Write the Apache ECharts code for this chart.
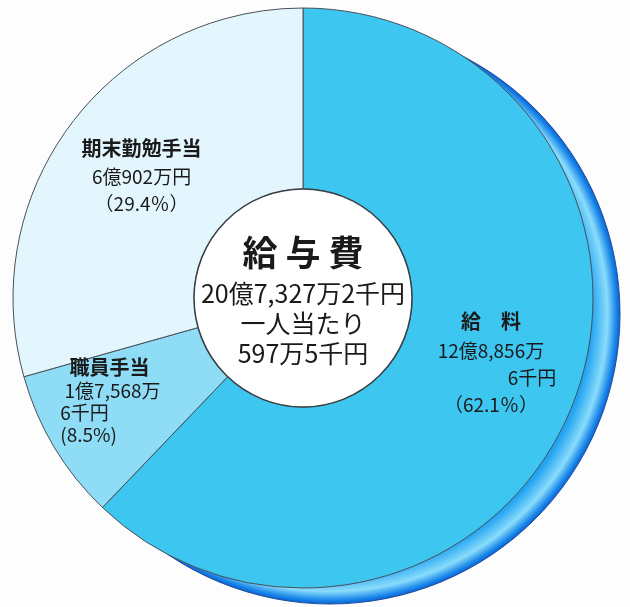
<!DOCTYPE html>
<html>
<head>
<meta charset="utf-8">
<script src="https://cdn.jsdelivr.net/npm/echarts@6/dist/echarts.min.js"></script>
<style>
  html, body { margin: 0; padding: 0; background: #fdfdfd; }
  #main { width: 630px; height: 607px; }
</style>
</head>
<body>
<div id="main"></div>
<script>
// 単位：千円
const categories = ['給　料', '職員手当', '期末勤勉手当'];
const values = [1288566, 175686, 609020];
const amountLines = [['12億8,856万', '6千円'], [' 1億7,568万', '6千円'], ['6億902万円']];
const percentLabels = ['（62.1％）', '(8.5%)', '（29.4％）'];
const colors = ['#3cc6f0', '#8fdcf6', '#e4f6fd'];
const centerTitle = '給 与 費';
const totalLabel = '20億7,327万2千円';
const perCapitaLabel = '597万5千円';

const font = '"Noto Sans CJK JP", sans-serif';
const center = [303, 298];

// ラベルの書式（スライスごと）
const labelStyles = [
  {
    formatter: `{h|${categories[0]}}\n{a|${amountLines[0][0]}}\n{r|${amountLines[0][1]}}\n{p|${percentLabels[0]}}`,
    offset: [0, -12],
    rich: {
      h: { fontSize: 20, fontWeight: 'bold', lineHeight: 32 },
      a: { fontSize: 19, lineHeight: 27 },
      r: { fontSize: 19, lineHeight: 27, align: 'right', padding: [0, -12, 0, 0] },
      p: { fontSize: 19, lineHeight: 27 }
    }
  },
  {
    formatter: `{h|  ${categories[1]}}\n{a|${amountLines[1][0]}}\n{a|${amountLines[1][1]}}\n{a|${percentLabels[1]}}`,
    offset: [-19, -2],
    rich: {
      h: { fontSize: 20, fontWeight: 'bold', lineHeight: 24, align: 'left' },
      a: { fontSize: 19, lineHeight: 22, align: 'left' }
    }
  },
  {
    formatter: `{h|${categories[2]}}\n{a|${amountLines[2][0]}}\n{a|${percentLabels[2]}}`,
    rich: {
      h: { fontSize: 20, fontWeight: 'bold', lineHeight: 30 },
      a: { fontSize: 19, lineHeight: 27 }
    }
  }
];

const chart = echarts.init(document.getElementById('main'));
chart.setOption({
  backgroundColor: '#fdfdfd',
  animation: false,
  series: [
    {
      // 右下の立体的な影
      type: 'pie',
      silent: true,
      z: 1,
      center: [center[0] + 27, center[1] + 16],
      radius: [0, 290],
      label: { show: false },
      itemStyle: {
        borderColor: '#1d4f9a',
        borderWidth: 1,
        color: {
          type: 'radial', x: 0.5, y: 0.5, r: 0.5,
          colorStops: [
            { offset: 0, color: '#22a4f2' },
            { offset: 0.9, color: '#22a4f2' },
            { offset: 0.955, color: '#8adcfb' },
            { offset: 0.985, color: '#1a88ea' },
            { offset: 1, color: '#0b5cd2' }
          ]
        }
      },
      data: [1]
    },
    {
      type: 'pie',
      z: 2,
      silent: true,
      center: center,
      radius: [109, 290],
      startAngle: 90,
      clockwise: true,
      itemStyle: { borderColor: '#4a5058', borderWidth: 1 },
      label: {
        show: true,
        position: 'inside',
        color: '#1a1a1a',
        fontFamily: font
      },
      labelLine: { show: false },
      data: categories.map((name, i) => ({
        name: name,
        value: values[i],
        itemStyle: { color: colors[i] },
        label: labelStyles[i]
      }))
    },
    {
      // 中央の円
      type: 'pie',
      z: 3,
      silent: true,
      center: center,
      radius: [0, 109],
      itemStyle: { color: '#ffffff', borderColor: '#3a3f45', borderWidth: 1.5 },
      label: {
        show: true,
        position: 'center',
        color: '#1a1a1a',
        fontFamily: font,
        formatter: `{t|${centerTitle}}\n{l|${totalLabel}}\n{l|一人当たり}\n{l|${perCapitaLabel}}`,
        rich: {
          t: { fontSize: 35, fontWeight: 'bold', lineHeight: 50 },
          l: { fontSize: 25, lineHeight: 30 }
        }
      },
      labelLine: { show: false },
      data: [1]
    }
  ]
});
</script>
</body>
</html>
